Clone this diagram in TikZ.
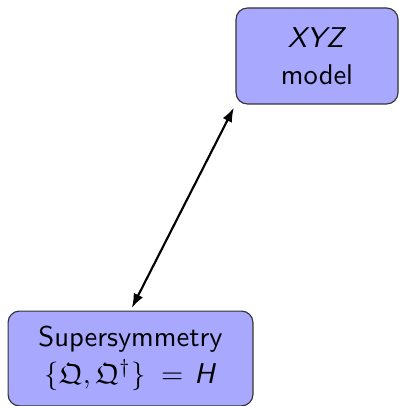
\documentclass[tikz,border=0pt]{standalone}
\usepackage{amssymb}
\usetikzlibrary{arrows.meta}
\begin{document}
\begin{tikzpicture}[x=0.35pt,y=-0.35pt,
  box/.style={draw=black!80, line width=0.4pt, fill=blue!34, rounded corners=4pt,
    align=center, font=\sffamily, inner sep=0pt},
  link/.style={line width=0.75pt, {Latex[length=5pt,width=3.6pt]}-{Latex[length=5pt,width=3.6pt]}, shorten <=1pt, shorten >=1.2pt}]
\useasboundingbox (0,0) rectangle (399,406);
\node[box, minimum width=56.7pt, minimum height=33.6pt] (xyz) at (317,56)
  {\textit{XYZ}\\[1pt] model};
\node[box, minimum width=85.7pt, minimum height=33.2pt] (susy) at (130.5,358.5)
  {Supersymmetry\\[1pt] $\{\mathfrak{Q},\mathfrak{Q}^\dagger\}\;=$\hspace{3.8pt}\textit{H}};
\draw[link] (susy.north) -- (xyz.south west);
\end{tikzpicture}
\end{document}
